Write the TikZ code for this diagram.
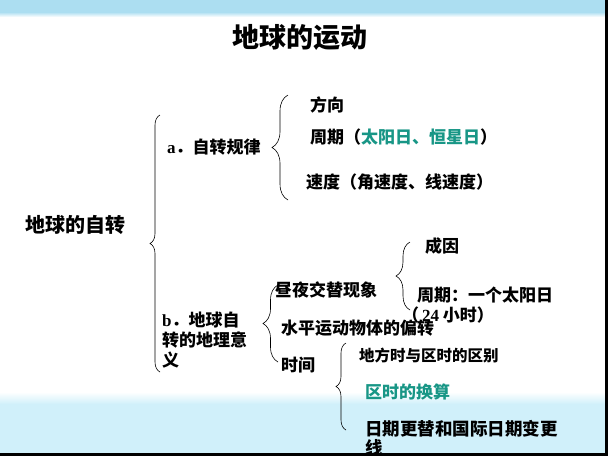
\documentclass[tikz,border=0pt]{standalone}
\usepackage{fontspec}
\setmainfont{Noto Sans CJK SC}
\newfontfamily\latser{Liberation Serif}
\usetikzlibrary{decorations.pathreplacing}
\definecolor{tealtext}{RGB}{24,150,134}
\definecolor{bandblue}{RGB}{172,222,241}
\definecolor{bandcyan}{RGB}{208,240,250}

\begin{document}
\begin{tikzpicture}[x=1pt, y=-1pt,
    txt/.style={anchor=west, inner sep=0pt, font=\fontsize{17}{20}\selectfont\bfseries},
    small/.style={txt, font=\fontsize{15.5}{18}\selectfont\bfseries},
    brc/.style={decorate, decoration={brace, mirror, amplitude=#1}, line width=0.6pt},
    brc/.default=10]
    \useasboundingbox (0,0) rectangle (608,456);
    % background bands
    \fill[bandblue] (0,0) rectangle (608,12);
    \shade[top color=bandblue, bottom color=white] (0,12) rectangle (608,17);
    \shade[top color=white, bottom color=bandcyan] (0,392) rectangle (608,404);
    \fill[bandcyan] (0,404) rectangle (608,453);
    \fill[black] (605,0) rectangle (608,456);
    \fill[black] (0,453) rectangle (608,456);

    % texts
    \node[txt, anchor=center, font=\fontsize{27}{30}\selectfont\bfseries] (title) at (300,37) {地球的运动};
    \node[txt, font=\fontsize{20}{22}\selectfont\bfseries] (rot) at (25,225) {地球的自转};
    \node[txt] (law) at (167,147) {{\latser a}．自转规律};
    \node[txt] (dir) at (310,105) {方向};
    \node[txt] (per) at (310,137) {周期（\textcolor{tealtext}{太阳日、恒星日}）};
    \node[txt] (spd) at (306,182) {速度（角速度、线速度）};
    \node[txt, align=left] (mean) at (162,340) {{\latser b}．地球自\\转的地理意\\义};
    \node[txt] (dn) at (275,290) {昼夜交替现象};
    \node[txt] (defl) at (281,328) {水平运动物体的偏转};
    \node[txt] (time) at (281,365) {时间};
    \node[txt] (cause) at (425,246) {成因};
    \node[txt] (day) at (417,295) {周期：一个太阳日};
    \node[txt] (hrs) at (402,315) {（\,{\latser 24} 小时）};
    \node[small] (loc) at (359,356) {地方时与区时的区别};
    \node[txt, text=tealtext] (zone) at (365,392) {区时的换算};
    \node[txt, align=left, font=\fontsize{17.5}{19}\selectfont\bfseries] (date) at (365,438) {日期更替和国际日期变更\\线};

    % braces
    \coordinate (rotT) at (160,115);  \coordinate (rotB) at (160,372);
    \coordinate (lawT) at (288,95);   \coordinate (lawB) at (288,200);
    \coordinate (meanT) at (278,285); \coordinate (meanB) at (278,362);
    \coordinate (dnT) at (410,242);   \coordinate (dnB) at (410,310);
    \coordinate (timeT) at (346,343); \coordinate (timeB) at (346,430);
    \draw[brc=10] (rotT) -- (rotB);
    \draw[brc=16] (lawT) -- (lawB);
    \draw[brc=15] (meanT) -- (meanB);
    \draw[brc=14] (dnT) -- (dnB);
    \draw[brc=10] (timeT) -- (timeB);
\end{tikzpicture}
\end{document}
